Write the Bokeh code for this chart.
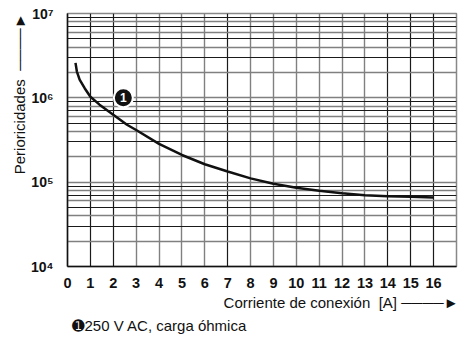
from bokeh.plotting import figure
from bokeh.models import Range1d, FixedTicker, Grid, Title
from bokeh.core.properties import value
from bokeh.embed import file_html
from bokeh.resources import INLINE

# data
current_a = [0.35, 0.41, 0.53, 0.75, 1.0, 1.4, 2.0, 2.6, 3, 4, 5, 6, 7, 8, 9, 10, 11, 12, 13, 14, 15, 16]
cycles = [2.6e6, 2.05e6, 1.64e6, 1.3e6, 1.03e6, 8.3e5, 6.3e5, 4.8e5, 4.15e5, 2.85e5, 2.1e5, 1.63e5,
          1.34e5, 1.11e5, 9.6e4, 8.6e4, 7.9e4, 7.4e4, 7.0e4, 6.8e4, 6.7e4, 6.6e4]
x_ticks = list(range(0, 17))
y_ticks = [1e4, 1e5, 1e6, 1e7]
y_tick_labels = {1e4: "10\u2074", 1e5: "10\u2075", 1e6: "10\u2076", 1e7: "10\u2077"}
x_grid_dark = [1, 2, 7, 14, 15, 16]
x_grid_gray = [3, 4, 5, 6, 8, 9, 10, 11, 12, 13]
marker_x = [2.44]
marker_y = [1.0e6]
marker_text = ["1"]

FONT = "Liberation Sans"
INK = "#111111"
SP = "\u00a0"
LINE = "\u2500"
HEAD = "\u25ba"

p = figure(width=459, height=336, output_backend="svg", toolbar_location=None,
           x_range=Range1d(0, 17), y_range=Range1d(1e4, 1e7), y_axis_type="log",
           min_border_left=67, min_border_right=3, min_border_top=13, min_border_bottom=70)
p.outline_line_color = "#888888"
p.outline_line_width = 1.5
p.grid.visible = False

for ax in (p.xaxis, p.yaxis):
    ax.major_tick_line_color = None
    ax.minor_tick_line_color = None
    ax.axis_line_color = INK
    ax.axis_line_width = 1.5
    ax.major_label_text_font = FONT
    ax.major_label_text_font_style = "bold"
    ax.major_label_text_color = INK

p.xaxis.ticker = FixedTicker(ticks=x_ticks)
p.xaxis.major_label_text_font_size = "14.5px"
p.xaxis.major_label_standoff = 5
p.yaxis.ticker = FixedTicker(ticks=y_ticks)
p.yaxis.major_label_overrides = y_tick_labels
p.yaxis.major_label_text_font_size = "14px"
p.yaxis.major_label_standoff = 8

# grid lines
p.add_layout(Grid(dimension=0, ticker=FixedTicker(ticks=x_grid_gray),
                  grid_line_color="#808080", grid_line_width=1.4))
p.add_layout(Grid(dimension=0, ticker=FixedTicker(ticks=x_grid_dark),
                  grid_line_color="#1a1a1a", grid_line_width=1.2))
gray_y = [m * 10 ** k for k in (4, 5, 6) for m in (1, 2, 4, 6, 8)] + [1e7]
dark_y = [m * 10 ** k for k in (4, 5, 6) for m in (3, 5, 7, 9)]
p.add_layout(Grid(dimension=1, ticker=FixedTicker(ticks=gray_y),
                  grid_line_color="#808080", grid_line_width=1.4))
p.add_layout(Grid(dimension=1, ticker=FixedTicker(ticks=dark_y),
                  grid_line_color="#1a1a1a", grid_line_width=1.2))

# curve
p.line(current_a, cycles, line_color=INK, line_width=2.5)
p.scatter(marker_x, marker_y, size=19, fill_color=INK, line_color="white", line_width=2)
p.text(marker_x, marker_y, text=marker_text, text_color="white",
       text_font_size="12px", text_font_style="bold", text_align="center",
       text_baseline="middle", text_font=value(FONT))

# titles (axis names with arrows, legend note)
p.add_layout(Title(text="Corriente de conexión" + SP * 2 + "[A]" + SP + LINE * 4 + HEAD,
                   align="right", offset=-2, standoff=3, text_font=FONT,
                   text_font_size="15px", text_font_style="normal", text_color=INK), "below")
p.add_layout(Title(text="\u278a250 V AC, carga óhmica", align="left", offset=4,
                   standoff=5, text_font=FONT, text_font_size="15px",
                   text_font_style="normal", text_color=INK), "below")
p.add_layout(Title(text="Perioricidades" + SP * 2 + LINE * 4 + HEAD, align="right", offset=0,
                   standoff=1, text_font=FONT, text_font_size="15px",
                   text_font_style="normal", text_color=INK), "left")

open("out.html", "w").write(file_html(p, INLINE))
